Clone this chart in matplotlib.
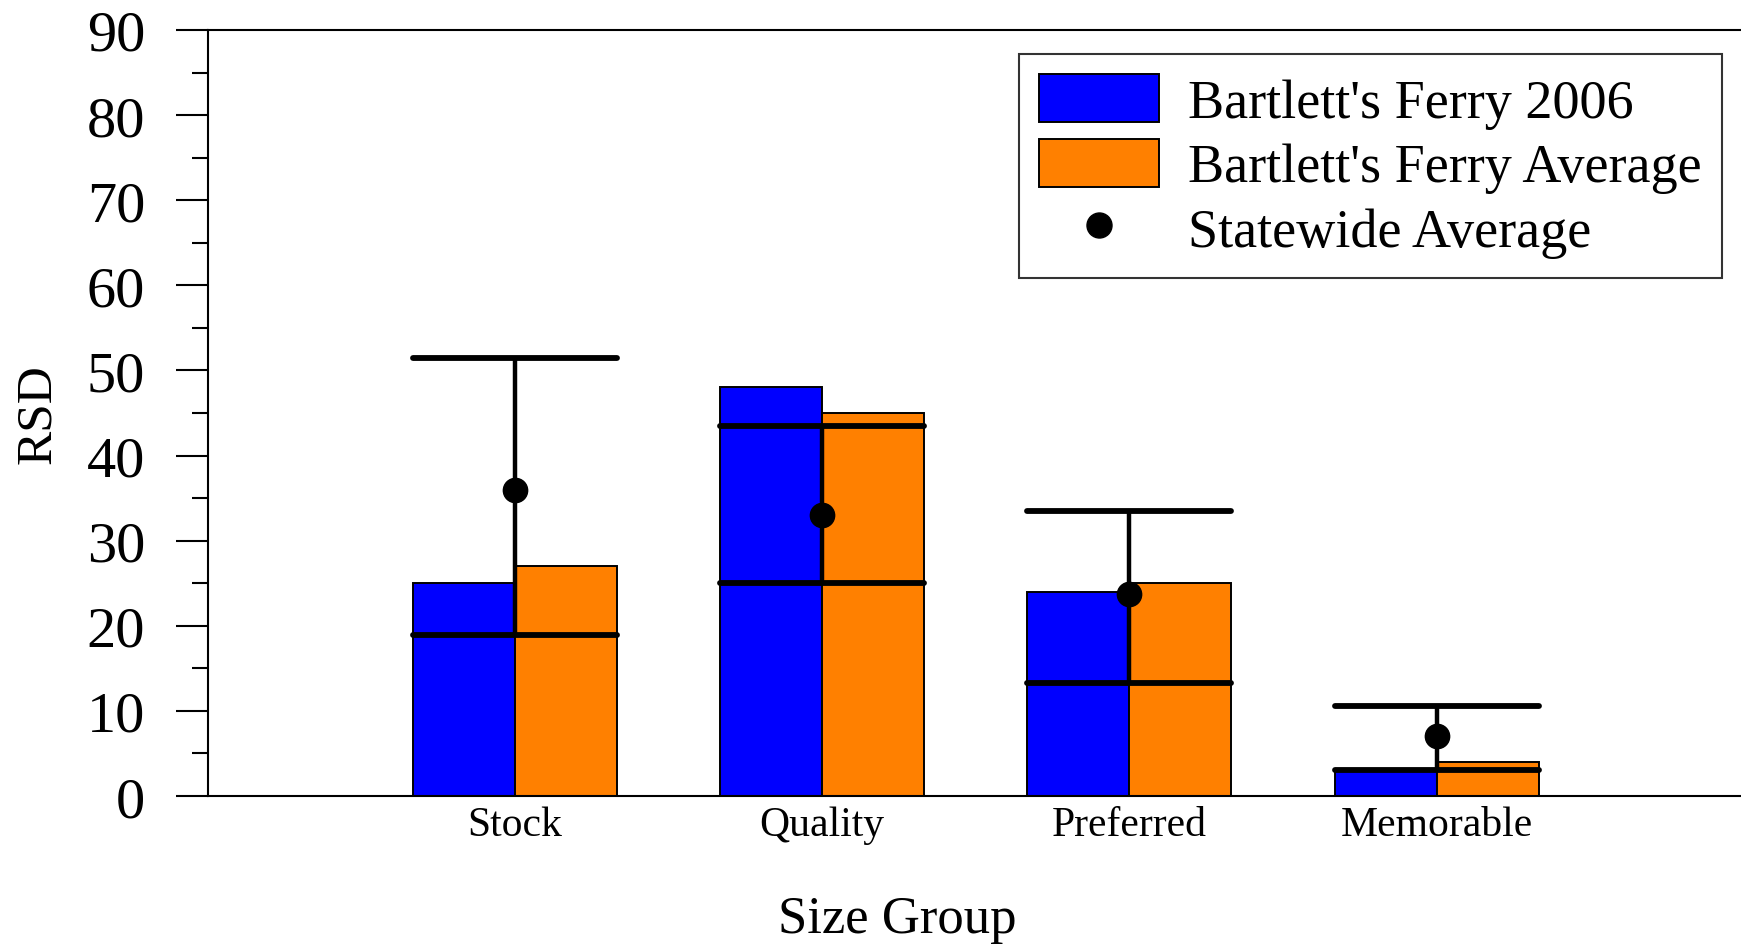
import matplotlib
matplotlib.use("Agg")
import matplotlib.pyplot as plt
from matplotlib.patches import Patch
from matplotlib.lines import Line2D
from matplotlib.ticker import MultipleLocator
import numpy as np

plt.rcParams['font.family'] = ['Liberation Serif', 'DejaVu Serif']

categories = ["Stock", "Quality", "Preferred", "Memorable"]
ferry_2006 = [25, 48, 24, 3]
ferry_avg = [27, 45, 25, 4]
state_avg = [36, 33, 23.7, 7]
state_low = [18.9, 25, 13.3, 3.1]
state_high = [51.5, 43.5, 33.5, 10.6]
y_ticks = [0, 10, 20, 30, 40, 50, 60, 70, 80, 90]

BLUE = "#0000FF"
ORANGE = "#FF8000"

fig = plt.figure(figsize=(17.41, 9.45), dpi=100)
ax = fig.add_axes([0.1192, 0.1566, 0.8825, 0.8106])

x = np.arange(len(categories))
w = 0.332

ax.bar(x - w / 2, ferry_2006, width=w, color=BLUE, edgecolor="black", linewidth=1.4, zorder=2)
ax.bar(x + w / 2, ferry_avg, width=w, color=ORANGE, edgecolor="black", linewidth=1.4, zorder=2)

# statewide range: vertical stem and wide caps at both ends
ax.vlines(x, state_low, state_high, color="black", linewidth=3.2, zorder=3)
ax.hlines(state_high, x - w, x + w, color="black", linewidth=4.2, zorder=3,
          capstyle="round")
ax.hlines(state_low, x - w, x + w, color="black", linewidth=4.2, zorder=3,
          capstyle="round")
ax.plot(x, state_avg, "o", color="black", markersize=17.5, zorder=4, linestyle="none")

ax.set_xlim(-1, 4)
ax.set_ylim(0, 90)
ax.set_yticks(y_ticks)
ax.yaxis.set_minor_locator(MultipleLocator(5))
ax.set_xticks(x)
ax.set_xticklabels(categories, fontsize=30)
ax.tick_params(axis="x", length=0, pad=7)
ax.tick_params(axis="y", which="major", length=23, width=1.5, direction="out",
               labelsize=42, pad=22)
ax.tick_params(axis="y", which="minor", length=11.5, width=1.5, direction="out")

for side in ("left", "top", "bottom"):
    ax.spines[side].set_linewidth(1.5)
ax.spines["right"].set_visible(False)

ax.set_ylabel("RSD", fontsize=37, labelpad=18)
ax.set_xlabel("Size Group", fontsize=38)
ax.xaxis.set_label_coords(0.4487, -0.161)
ax.xaxis.label.set_verticalalignment("center")

handles = [
    Patch(facecolor=BLUE, edgecolor="black", linewidth=1.4),
    Patch(facecolor=ORANGE, edgecolor="black", linewidth=1.4),
    Line2D([], [], marker="o", color="black", linestyle="none", markersize=18),
]
labels = ["Bartlett's Ferry 2006", "Bartlett's Ferry Average", "Statewide Average"]
leg = ax.legend(handles, labels, loc="upper right",
                bbox_to_anchor=(1722 / 1741, 1 - 55 / 945),
                bbox_transform=fig.transFigure,
                fontsize=39, frameon=True, fancybox=False,
                handlelength=2.2, handleheight=0.98, handletextpad=0.55,
                labelspacing=0.19, borderpad=0.37, borderaxespad=0)
leg.get_frame().set_edgecolor("black")
leg.get_frame().set_linewidth(1.5)

fig.savefig("out.png", dpi=100)
